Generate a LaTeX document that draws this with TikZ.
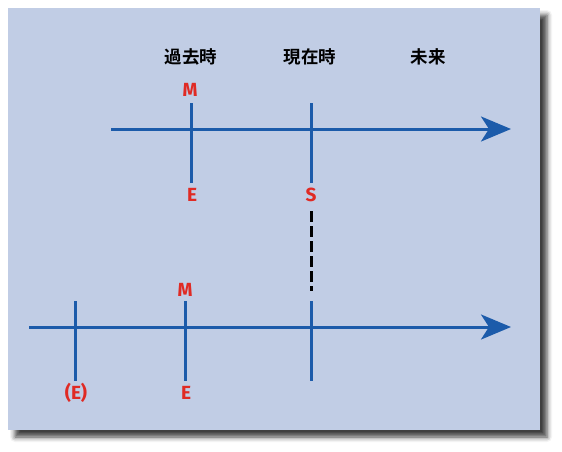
\documentclass[tikz,border=0pt]{standalone}
\usepackage{fontspec}
\newfontfamily\jpfont{Noto Sans CJK JP}[BoldFont={Noto Sans CJK JP Bold}]
\newfontfamily\lbfont{Fira Sans}
\usepackage{xcolor}
\usetikzlibrary{arrows.meta,shadows.blur}
\definecolor{panelbg}{HTML}{C1CDE5}
\definecolor{axisblue}{HTML}{1C5BAA}
\definecolor{markred}{HTML}{E02A24}

\begin{document}
\begin{tikzpicture}[x=1pt, y=-1pt,
    >={Stealth[length=30pt,width=25pt,inset=8pt]},
    axis/.style={->, axisblue, line width=3pt},
    tick/.style={axisblue, line width=3pt},
    redlabel/.style={text=markred, inner sep=0pt, font=\lbfont\bfseries\fontsize{19}{19}\selectfont},
    tense/.style={inner sep=0pt, font=\jpfont\bfseries\fontsize{17.5}{17.5}\selectfont}]
  \useasboundingbox (0,0) rectangle (562,451);
  \fill[panelbg, blur shadow={shadow xshift=7pt, shadow yshift=-7pt, shadow blur radius=5pt, shadow opacity=75}] (8,8) rectangle (540,430);
  % tense headings
  \node[tense] (past) at (191,57) {過去時};
  \node[tense] (present) at (310,57) {現在時};
  \node[tense] (future) at (428,57) {未来};
  % upper time line
  \coordinate (A0) at (111,129);
  \coordinate (A1) at (511,129);
  \draw[axis] (A0) -- (A1);
  \coordinate (M1t) at (191,103);
  \coordinate (M1b) at (191,183);
  \coordinate (S1t) at (311,103);
  \coordinate (S1b) at (311,183);
  \draw[tick] (M1t) -- (M1b);
  \draw[tick] (S1t) -- (S1b);
  \node[redlabel] (M1) at (190,90) {M};
  \node[redlabel] (E1) at (192,195) {E};
  \node[redlabel] (S1) at (311,195) {S};
  % link between the two lines
  \coordinate (D0) at (311,211);
  \coordinate (D1) at (311,291);
  \draw[black, line width=3pt, dash pattern=on 11pt off 4pt] (D0) -- (D1);
  % lower time line
  \coordinate (B0) at (29,327);
  \coordinate (B1) at (511,327);
  \draw[axis] (B0) -- (B1);
  \coordinate (X2t) at (75,301);
  \coordinate (X2b) at (75,381);
  \coordinate (M2t) at (185,301);
  \coordinate (M2b) at (185,381);
  \coordinate (S2t) at (311,301);
  \coordinate (S2b) at (311,381);
  \draw[tick] (X2t) -- (X2b);
  \draw[tick] (M2t) -- (M2b);
  \draw[tick] (S2t) -- (S2b);
  \node[redlabel] (M2) at (185,290) {M};
  \node[redlabel] (E2) at (186,393) {E};
  \node[redlabel] (X2) at (76,393) {(E)};
\end{tikzpicture}
\end{document}
